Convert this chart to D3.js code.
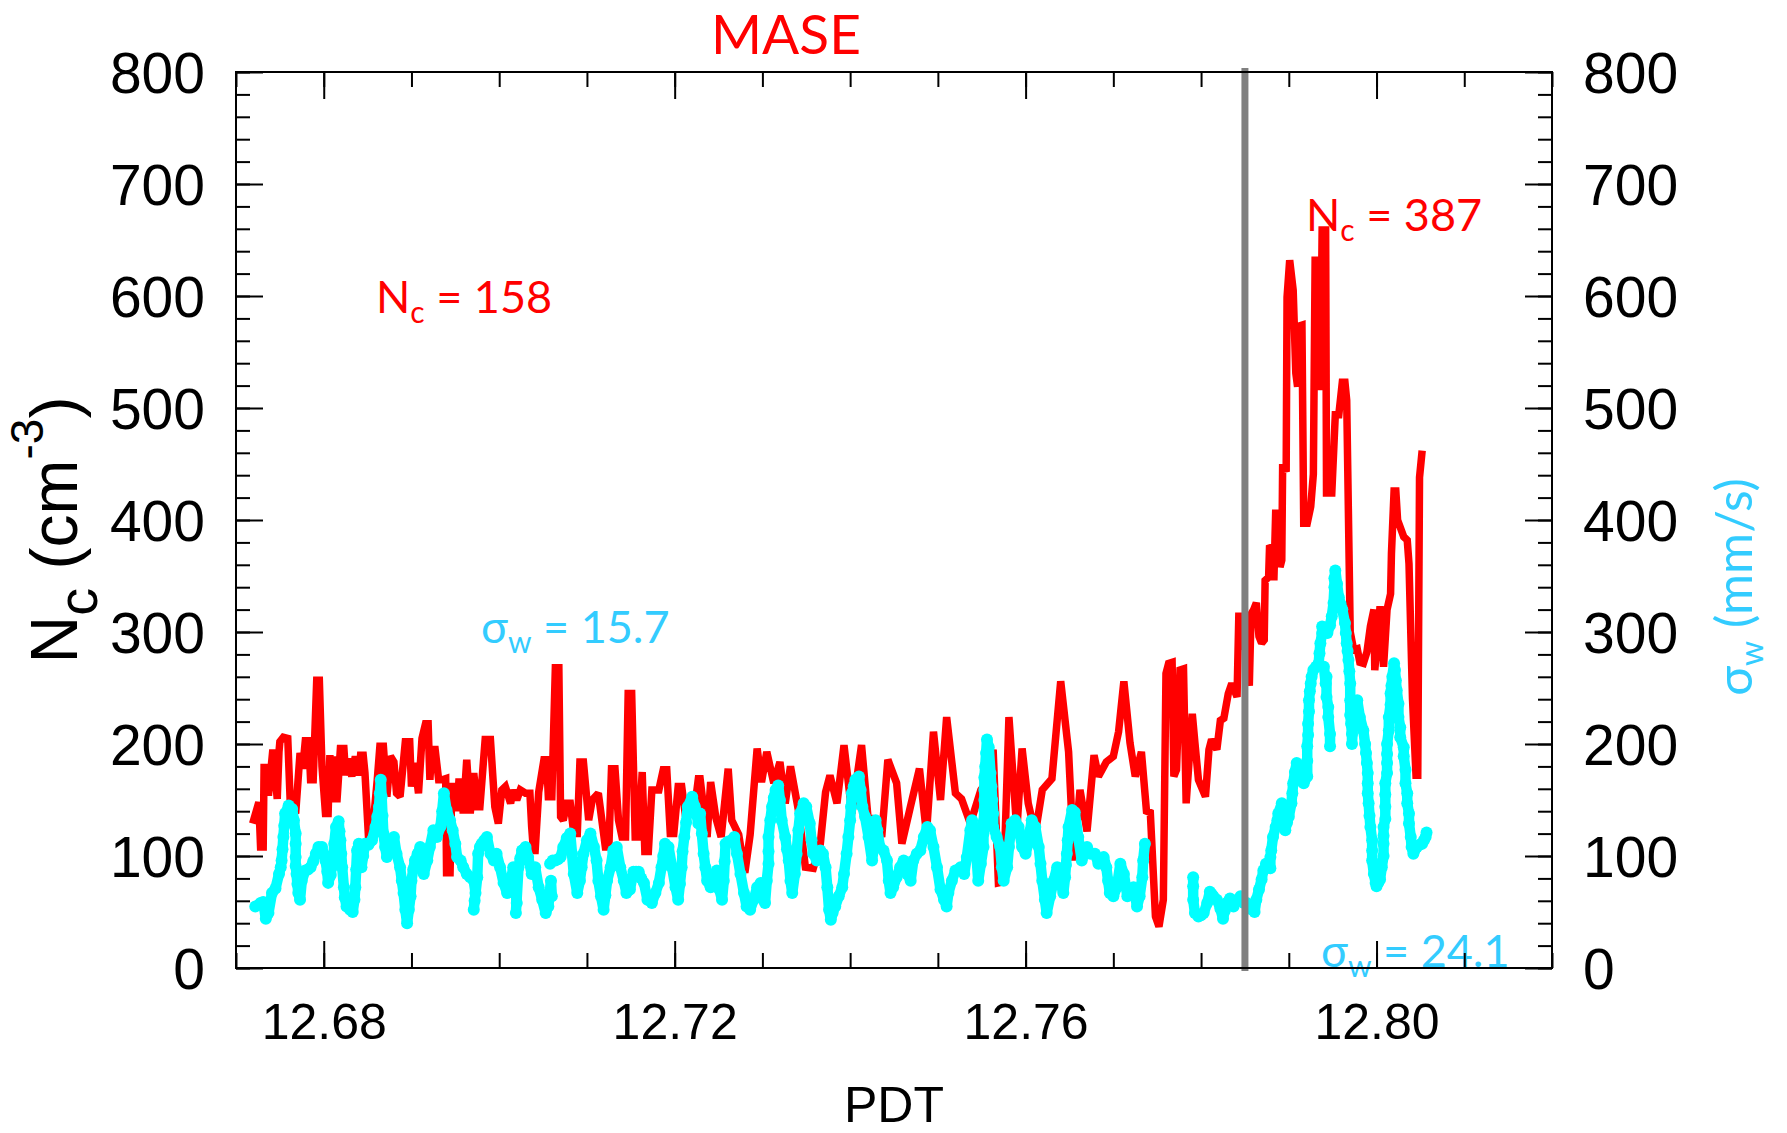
<!DOCTYPE html>
<html><head><meta charset="utf-8">
<script src="https://cdn.jsdelivr.net/npm/d3@7"></script>
<style>html,body{margin:0;padding:0;background:#fff;}svg{display:block;}</style>
</head><body>
<script>
// ---- DATA (PDT decimal hours) ----
const ncTime = [12.6719,12.6726,12.6728,12.6731,12.6732,12.6735,12.6737,12.6742,12.6747,12.6749,12.6750,12.6754,12.6759,12.6762,12.6768,12.6773,12.6776,12.6779,12.6783,12.6785,12.6788,12.6792,12.6795,12.6798,12.6802,12.6805,12.6807,12.6809,12.6811,12.6815,12.6819,12.6823,12.6825,12.6828,12.6832,12.6836,12.6840,12.6842,12.6845,12.6847,12.6851,12.6855,12.6861,12.6864,12.6868,12.6872,12.6876,12.6880,12.6883,12.6887,12.6893,12.6898,12.6900,12.6904,12.6908,12.6912,12.6916,12.6919,12.6921,12.6923,12.6927,12.6931,12.6935,12.6939,12.6940,12.6944,12.6946,12.6950,12.6952,12.6954,12.6957,12.6959,12.6963,12.6967,12.6971,12.6975,12.6978,12.6984,12.6990,12.6995,12.6999,12.7003,12.7007,12.7013,12.7016,12.7020,12.7024,12.7030,12.7035,12.7037,12.7039,12.7041,12.7045,12.7051,12.7054,12.7056,12.7060,12.7064,12.7068,12.7070,12.7073,12.7077,12.7081,12.7085,12.7089,12.7092,12.7096,12.7102,12.7106,12.7113,12.7121,12.7125,12.7128,12.7132,12.7136,12.7140,12.7144,12.7147,12.7151,12.7155,12.7159,12.7163,12.7166,12.7170,12.7174,12.7182,12.7187,12.7191,12.7195,12.7199,12.7204,12.7208,12.7212,12.7222,12.7227,12.7229,12.7237,12.7241,12.7247,12.7253,12.7261,12.7265,12.7273,12.7280,12.7286,12.7294,12.7299,12.7305,12.7313,12.7320,12.7326,12.7332,12.7341,12.7349,12.7358,12.7366,12.7372,12.7377,12.7385,12.7393,12.7402,12.7413,12.7421,12.7427,12.7436,12.7443,12.7453,12.7459,12.7469,12.7479,12.7487,12.7495,12.7503,12.7510,12.7520,12.7527,12.7537,12.7549,12.7558,12.7563,12.7569,12.7575,12.7581,12.7590,12.7596,12.7603,12.7611,12.7619,12.7630,12.7640,12.7649,12.7655,12.7662,12.7670,12.7678,12.7683,12.7692,12.7700,12.7706,12.7712,12.7719,12.7725,12.7732,12.7738,12.7742,12.7748,12.7752,12.7757,12.7760,12.7763,12.7767,12.7769,12.7772,12.7776,12.7780,12.7783,12.7790,12.7793,12.7797,12.7805,12.7809,12.7812,12.7818,12.7822,12.7826,12.7831,12.7835,12.7841,12.7843,12.7847,12.7855,12.7857,12.7860,12.7863,12.7866,12.7869,12.7872,12.7873,12.7877,12.7878,12.7882,12.7883,12.7885,12.7888,12.7890,12.7892,12.7893,12.7897,12.7898,12.7901,12.7905,12.7908,12.7910,12.7911,12.7915,12.7917,12.7921,12.7925,12.7928,12.7930,12.7934,12.7936,12.7938,12.7942,12.7943,12.7949,12.7953,12.7957,12.7961,12.7964,12.7966,12.7970,12.7974,12.7978,12.7981,12.7985,12.7989,12.7993,12.7997,12.7998,12.8002,12.8004,12.8008,12.8012,12.8016,12.8017,12.8020,12.8022,12.8024,12.8031,12.8035,12.8037,12.8041,12.8045,12.8047,12.8049,12.8052];
const ncValue = [129,148,108,108,179,179,154,195,151,193,202,206,205,144,138,192,178,203,203,168,168,257,257,180,138,138,190,148,189,148,196,196,172,187,171,189,172,190,190,174,117,117,168,198,198,153,189,184,156,153,202,202,162,183,156,205,218,218,168,195,195,168,168,169,85,85,162,162,140,166,166,138,186,138,174,144,144,204,204,144,129,159,162,147,159,150,159,156,156,126,105,105,157,186,186,153,153,268,268,135,132,147,147,120,120,184,184,132,150,156,108,108,178,178,132,117,117,245,245,117,117,175,104,104,159,159,177,177,120,120,162,162,138,138,169,169,117,166,134,117,178,132,119,85,119,196,166,193,165,184,147,180,141,90,89,111,157,172,147,199,138,199,129,135,117,186,165,111,145,178,120,211,150,224,156,151,129,159,168,195,76,77,224,123,196,147,120,159,169,256,193,96,159,122,190,171,184,189,211,256,201,171,193,138,141,46,37,61,263,272,273,171,177,266,267,147,227,201,168,153,195,204,195,221,223,245,254,242,314,314,252,316,320,326,296,290,293,346,349,375,376,346,406,406,358,364,450,443,599,632,605,531,519,573,574,397,397,412,441,632,632,516,659,659,424,424,494,494,523,523,507,300,284,285,273,272,282,305,320,266,302,323,269,320,334,370,426,426,400,385,382,361,240,172,172,438,462];

const swTime = [12.6722,12.6728,12.6731,12.6734,12.6737,12.6741,12.6745,12.6749,12.6751,12.6752,12.6753,12.6754,12.6755,12.6756,12.6760,12.6764,12.6766,12.6768,12.6768,12.6768,12.6768,12.6769,12.6770,12.6771,12.6773,12.6775,12.6779,12.6782,12.6785,12.6788,12.6791,12.6794,12.6798,12.6802,12.6804,12.6805,12.6808,12.6809,12.6811,12.6812,12.6814,12.6817,12.6818,12.6819,12.6820,12.6821,12.6823,12.6824,12.6826,12.6830,12.6833,12.6835,12.6836,12.6837,12.6838,12.6840,12.6843,12.6845,12.6847,12.6851,12.6855,12.6859,12.6861,12.6863,12.6864,12.6865,12.6866,12.6867,12.6868,12.6870,12.6872,12.6876,12.6880,12.6883,12.6887,12.6889,12.6891,12.6893,12.6895,12.6897,12.6899,12.6900,12.6902,12.6904,12.6907,12.6910,12.6914,12.6918,12.6921,12.6925,12.6929,12.6933,12.6935,12.6937,12.6940,12.6944,12.6947,12.6950,12.6952,12.6956,12.6959,12.6963,12.6967,12.6971,12.6973,12.6971,12.6972,12.6975,12.6976,12.6978,12.6980,12.6983,12.6986,12.6990,12.6994,12.6997,12.7001,12.7005,12.7009,12.7013,12.7016,12.7018,12.7020,12.7019,12.7022,12.7024,12.7026,12.7030,12.7033,12.7037,12.7041,12.7045,12.7049,12.7053,12.7056,12.7059,12.7060,12.7058,12.7061,12.7064,12.7067,12.7070,12.7073,12.7077,12.7081,12.7083,12.7085,12.7089,12.7092,12.7094,12.7096,12.7100,12.7104,12.7108,12.7111,12.7113,12.7116,12.7119,12.7121,12.7123,12.7127,12.7130,12.7134,12.7138,12.7142,12.7145,12.7149,12.7153,12.7156,12.7159,12.7162,12.7165,12.7169,12.7172,12.7174,12.7178,12.7182,12.7185,12.7187,12.7189,12.7193,12.7197,12.7201,12.7204,12.7206,12.7208,12.7209,12.7211,12.7213,12.7215,12.7220,12.7223,12.7227,12.7229,12.7231,12.7233,12.7235,12.7237,12.7241,12.7244,12.7248,12.7251,12.7254,12.7256,12.7257,12.7258,12.7261,12.7265,12.7268,12.7271,12.7275,12.7279,12.7282,12.7286,12.7290,12.7294,12.7298,12.7301,12.7303,12.7305,12.7307,12.7307,12.7307,12.7309,12.7311,12.7313,12.7315,12.7318,12.7320,12.7322,12.7326,12.7328,12.7330,12.7332,12.7334,12.7337,12.7339,12.7341,12.7343,12.7347,12.7350,12.7354,12.7356,12.7358,12.7362,12.7366,12.7369,12.7372,12.7374,12.7376,12.7378,12.7380,12.7383,12.7387,12.7391,12.7393,12.7396,12.7398,12.7400,12.7401,12.7402,12.7404,12.7406,12.7410,12.7412,12.7414,12.7417,12.7421,12.7425,12.7427,12.7429,12.7431,12.7434,12.7438,12.7442,12.7444,12.7446,12.7449,12.7453,12.7457,12.7461,12.7465,12.7469,12.7472,12.7476,12.7480,12.7484,12.7488,12.7491,12.7495,12.7499,12.7503,12.7507,12.7510,12.7512,12.7516,12.7520,12.7526,12.7530,12.7533,12.7537,12.7539,12.7542,12.7544,12.7546,12.7549,12.7552,12.7552,12.7552,12.7553,12.7553,12.7553,12.7553,12.7554,12.7555,12.7556,12.7558,12.7560,12.7561,12.7562,12.7563,12.7563,12.7567,12.7571,12.7573,12.7575,12.7579,12.7581,12.7584,12.7588,12.7592,12.7596,12.7600,12.7603,12.7605,12.7607,12.7611,12.7615,12.7617,12.7619,12.7622,12.7624,12.7628,12.7632,12.7636,12.7639,12.7643,12.7645,12.7646,12.7647,12.7648,12.7649,12.7653,12.7656,12.7660,12.7664,12.7667,12.7670,12.7674,12.7679,12.7683,12.7689,12.7692,12.7694,12.7696,12.7700,12.7704,12.7708,12.7712,12.7716,12.7719,12.7723,12.7727,12.7730,12.7733,12.7734,12.7736,
12.7791,12.7791,12.7791,12.7793,12.7797,12.7800,12.7803,12.7807,12.7810,12.7812,12.7814,12.7818,12.7822,12.7825,12.7827,12.7829,12.7833,12.7837,12.7842,12.7845,12.7849,12.7852,12.7856,12.7861,12.7863,12.7866,12.7869,12.7871,12.7874,12.7879,12.7879,12.7880,12.7882,12.7885,12.7887,12.7888,12.7892,12.7896,12.7896,12.7898,12.7900,12.7903,12.7904,12.7905,12.7907,12.7909,12.7911,12.7913,12.7915,12.7917,12.7921,12.7921,12.7921,12.7922,12.7922,12.7923,12.7923,12.7924,12.7925,12.7926,12.7928,12.7931,12.7934,12.7935,12.7936,12.7938,12.7938,12.7941,12.7944,12.7947,12.7949,12.7951,12.7952,12.7952,12.7953,12.7955,12.7957,12.7959,12.7961,12.7964,12.7965,12.7966,12.7967,12.7968,12.7969,12.7970,12.7970,12.7970,12.7971,12.7972,12.7972,12.7973,12.7974,12.7978,12.7981,12.7985,12.7987,12.7988,12.7989,12.7990,12.7990,12.7990,12.7991,12.7992,12.7993,12.7995,12.7995,12.7995,12.7997,12.7999,12.8000,12.8002,12.8004,12.8006,12.8008,12.8008,12.8008,12.8008,12.8010,12.8010,12.8010,12.8010,12.8012,12.8012,12.8012,12.8012,12.8014,12.8014,12.8016,12.8016,12.8017,12.8018,12.8020,12.8021,12.8022,12.8023,12.8025,12.8025,12.8027,12.8027,12.8031,12.8031,12.8033,12.8033,12.8035,12.8035,12.8037,12.8037,12.8039,12.8040,12.8042,12.8046,12.8049,12.8052,12.8054,12.8056,12.8057,
12.7940,12.7942,12.7943,12.7943,12.7945,12.7945,12.7947,12.7947];
const swValue = [55,58,59,44,49,67,71,84,90,96,106,117,127,138,145,142,132,120,111,99,91,84,75,67,61,78,87,88,90,95,102,108,108,96,86,76,83,90,100,111,126,131,122,114,102,90,72,63,55,52,50,61,72,88,105,111,90,100,111,110,114,126,135,144,156,168,153,136,120,108,99,111,117,102,90,78,67,52,40,52,64,78,88,96,102,108,84,96,108,123,117,126,140,156,141,132,123,111,99,96,90,84,81,78,67,52,60,81,102,108,111,114,117,102,96,102,90,76,67,76,90,74,58,49,90,98,105,108,99,84,90,72,61,49,55,78,64,93,96,96,97,99,108,116,120,102,84,67,78,90,102,114,120,108,96,78,64,52,65,78,90,105,108,90,78,67,70,86,86,86,80,76,61,60,58,67,76,90,100,111,108,90,72,61,75,90,104,117,130,144,153,144,129,138,120,102,90,78,72,81,87,70,61,78,95,111,113,114,117,102,84,67,55,52,61,72,76,61,58,78,93,104,117,132,144,152,159,163,150,132,117,106,96,78,67,84,102,123,138,147,144,129,114,102,96,105,102,90,72,52,43,49,55,64,72,84,102,117,132,144,156,162,168,171,159,144,135,117,96,108,132,123,108,105,96,78,67,72,81,90,96,84,78,96,102,105,117,126,123,108,90,70,61,55,67,78,87,90,84,99,123,132,120,100,78,93,108,120,130,141,150,159,170,180,192,204,197,174,162,150,138,126,117,108,90,78,90,108,129,132,126,108,102,111,122,132,126,108,93,78,61,49,64,78,90,78,67,81,92,102,114,126,141,139,117,96,102,108,102,102,93,99,90,78,67,64,72,93,84,64,67,72,55,64,81,96,111,
81,73,61,49,46,47,49,58,68,66,64,61,53,44,51,58,62,55,61,64,58,58,53,50,61,70,79,87,93,89,99,105,117,126,132,138,147,144,123,130,135,147,156,165,175,183,180,177,170,165,171,185,198,208,218,229,239,247,254,260,266,269,272,281,290,299,305,300,299,306,314,326,340,348,355,343,331,325,320,308,299,290,283,275,265,254,239,226,218,209,200,215,230,239,224,212,200,192,183,174,165,156,147,136,126,114,105,96,84,76,73,76,79,90,100,111,118,126,133,144,155,165,174,183,191,200,212,224,235,245,252,260,272,266,257,248,236,224,215,206,197,189,177,165,156,147,138,129,117,108,102,108,110,111,114,117,121,
269,254,260,242,233,224,209,198];

const xTicksMajor = [12.68, 12.72, 12.76, 12.80];
const xTickLabels = ["12.68", "12.72", "12.76", "12.80"];
const yTicksMajor = [0, 100, 200, 300, 400, 500, 600, 700, 800];
const yTickLabels = ["0", "100", "200", "300", "400", "500", "600", "700", "800"];
const markerTime = 12.785;

// ---- LAYOUT ----
const W = 1787, H = 1133;
const L = 236, R = 1552, T = 72, B = 968;
const RED = "#ff0000", CYAN = "#00ffff", SKY = "#33ccff";
const ARIAL = "'Liberation Sans', Arial, Helvetica, sans-serif";
const CAL = "Lato, 'Open Sans', 'Noto Sans', 'DejaVu Sans', sans-serif";

const svg = d3.select("body").append("svg").attr("width", W).attr("height", H)
  .style("background", "#fff");

const x = d3.scaleLinear().domain([12.67, 12.82]).range([L, R]);
const y = d3.scaleLinear().domain([0, 800]).range([B, T]);
const y2 = d3.scaleLinear().domain([0, 800]).range([B, T]);

const xMinor = d3.range(0, 16).map(k => +(12.67 + k * 0.01).toFixed(2));
const yMinor = d3.range(0, 801, 20);

// red line
const ncData = ncTime.map((t, i) => ({ t, v: ncValue[i] }));
svg.append("path").datum(ncData)
  .attr("fill", "none").attr("stroke", RED).attr("stroke-width", 7.5)
  .attr("stroke-linejoin", "miter").attr("stroke-miterlimit", 2)
  .attr("d", d3.line().x(d => x(d.t)).y(d => y(d.v)));

// cyan dots: dense overlapping markers, drawn as runs of consecutive samples
const swData = swTime.map((t, i) => ({ t, v: swValue[i] }));
const runs = [];
swData.forEach((d, i) => {
  const prev = swData[i - 1];
  if (!prev || d.t < prev.t || d.t - prev.t > 0.002) runs.push([]);
  runs[runs.length - 1].push(d);
});
const gCyan = svg.append("g");
gCyan.selectAll("path").data(runs).join("path")
  .attr("fill", "none").attr("stroke", CYAN).attr("stroke-width", 10.5)
  .attr("stroke-linejoin", "round").attr("stroke-linecap", "round")
  .attr("d", d3.line().x(d => x(d.t)).y(d => y2(d.v)));
gCyan.selectAll("circle").data(swData).join("circle")
  .attr("cx", d => x(d.t)).attr("cy", d => y2(d.v)).attr("r", 6)
  .attr("fill", CYAN);

// gray marker line
svg.append("line").attr("x1", x(markerTime)).attr("x2", x(markerTime))
  .attr("y1", T - 4).attr("y2", B + 3)
  .attr("stroke", "#808080").attr("stroke-width", 7);

// annotations
function annot(xp, yp, main, sub, rest, color) {
  const t = svg.append("text").attr("x", xp).attr("y", yp)
    .attr("font-family", CAL).attr("font-size", 45).attr("fill", color);
  t.append("tspan").text(main);
  t.append("tspan").attr("font-size", 30).attr("dy", 10).text(sub);
  t.append("tspan").attr("dy", -10).text(rest);
}
annot(376, 313, "N", "c", " = 158", RED);
annot(1306, 231, "N", "c", " = 387", RED);
annot(481, 643, "\u03c3", "w", " = 15.7", SKY);
annot(1321, 967, "\u03c3", "w", " = 24.1", SKY);

// title
svg.append("text").attr("x", 786).attr("y", 54).attr("text-anchor", "middle")
  .attr("font-family", CAL).attr("font-size", 55).attr("fill", RED).text("MASE");

// axes
function styleAxis(g, fs) {
  g.select(".domain").remove();
  g.selectAll(".tick line").attr("stroke", "#000").attr("stroke-width", 2);
  g.attr("font-family", ARIAL).attr("font-size", fs);
  g.selectAll(".tick text").attr("fill", "#000");
}
svg.append("g").attr("transform", `translate(0,${B})`)
  .call(d3.axisBottom(x).tickValues(xMinor).tickSize(-15).tickFormat(""))
  .call(g => styleAxis(g, 10));
svg.append("g").attr("transform", `translate(0,${B})`)
  .call(d3.axisBottom(x).tickValues(xTicksMajor).tickSize(-27).tickPadding(35)
    .tickFormat((d, i) => xTickLabels[i]))
  .call(g => styleAxis(g, 50));
svg.append("g").attr("transform", `translate(0,${T})`)
  .call(d3.axisTop(x).tickValues(xMinor).tickSize(-15).tickFormat(""))
  .call(g => styleAxis(g, 10));
svg.append("g").attr("transform", `translate(0,${T})`)
  .call(d3.axisTop(x).tickValues(xTicksMajor).tickSize(-27).tickFormat(""))
  .call(g => styleAxis(g, 10));

svg.append("g").attr("transform", `translate(${L},0)`)
  .call(d3.axisLeft(y).tickValues(yMinor).tickSize(-14).tickFormat(""))
  .call(g => styleAxis(g, 10));
svg.append("g").attr("transform", `translate(${L},0)`)
  .call(d3.axisLeft(y).tickValues(yTicksMajor).tickSize(-27).tickPadding(31)
    .tickFormat((d, i) => yTickLabels[i]))
  .call(g => { styleAxis(g, 57); g.selectAll(".tick text").attr("dy", "0.36em"); });
svg.append("g").attr("transform", `translate(${R},0)`)
  .call(d3.axisRight(y2).tickValues(yMinor).tickSize(-14).tickFormat(""))
  .call(g => styleAxis(g, 10));
svg.append("g").attr("transform", `translate(${R},0)`)
  .call(d3.axisRight(y2).tickValues(yTicksMajor).tickSize(-27).tickPadding(31)
    .tickFormat((d, i) => yTickLabels[i]))
  .call(g => { styleAxis(g, 57); g.selectAll(".tick text").attr("dy", "0.36em"); });

// frame
svg.append("rect").attr("x", L).attr("y", T).attr("width", R - L).attr("height", B - T)
  .attr("fill", "none").attr("stroke", "#000").attr("stroke-width", 2);

// x axis title
svg.append("text").attr("x", (L + R) / 2).attr("y", 1122).attr("text-anchor", "middle")
  .attr("font-family", ARIAL).attr("font-size", 50).attr("fill", "#000").text("PDT");

// left y title
const yl = svg.append("text").attr("transform", "translate(77,530) rotate(-90)")
  .attr("text-anchor", "middle").attr("font-family", ARIAL).attr("font-size", 66).attr("fill", "#000");
yl.append("tspan").text("N");
yl.append("tspan").attr("font-size", 56).attr("dy", 20).text("c");
yl.append("tspan").attr("dy", -20).text(" (cm");
yl.append("tspan").attr("font-size", 46).attr("dy", -34).text("-3");
yl.append("tspan").attr("dy", 34).text(")");

// right y title
const yr = svg.append("text").attr("transform", "translate(1752,587) rotate(-90)")
  .attr("text-anchor", "middle").attr("font-family", CAL).attr("font-size", 50).attr("fill", SKY);
yr.append("tspan").text("\u03c3");
yr.append("tspan").attr("font-size", 32).attr("dy", 11).text("w");
yr.append("tspan").attr("dy", -11).text(" (mm/s)");
</script>
</body></html>
